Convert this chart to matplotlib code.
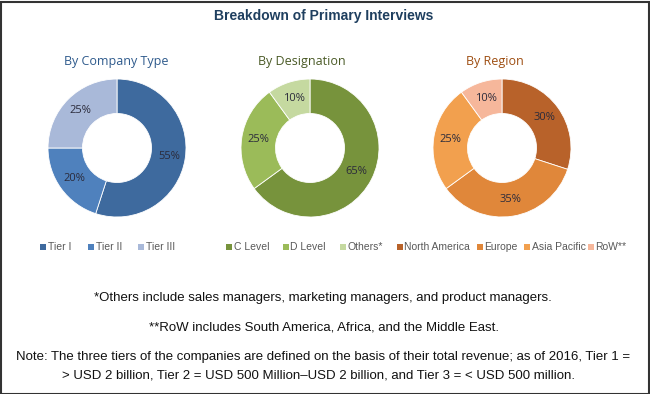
import matplotlib
matplotlib.use("Agg")
import matplotlib.pyplot as plt
from matplotlib.patches import Rectangle

plt.rcParams['font.family'] = ['Liberation Sans', 'DejaVu Sans']

company_labels = ["Tier I", "Tier II", "Tier III"]
company_values = [55, 20, 25]
company_colors = ["#3E6A9E", "#4F81BD", "#A9B9D9"]

designation_labels = ["C Level", "D Level", "Others*"]
designation_values = [65, 25, 10]
designation_colors = ["#77933C", "#9BBB59", "#C5D9A0"]

region_labels = ["North America", "Europe", "Asia Pacific", "RoW**"]
region_values = [30, 35, 25, 10]
region_colors = ["#B8622A", "#E0873A", "#F2A04E", "#F6B79B"]

W, H = 650, 394
fig = plt.figure(figsize=(W / 100, H / 100), dpi=100)
fig.patch.set_facecolor("white")
fig.add_artist(Rectangle((0.5 / W, 0.5 / H), 1 - 2 / W, 1 - 2 / H, transform=fig.transFigure,
                         fill=False, edgecolor="#333333", linewidth=1.5))

def px(x, y):
    return x / W, 1 - y / H

fig.text(*px(324, 16), "Breakdown of Primary Interviews", ha="center", va="center",
         fontsize=10, fontweight="bold", color="#1F3F5F", family=["Liberation Sans", "DejaVu Sans"])

groups = [
    ("By Company Type", "#2E5A8C", 116, 117, company_values, company_colors),
    ("By Designation", "#4A5A26", 302, 310, designation_values, designation_colors),
    ("By Region", "#9E4E12", 495, 502, region_values, region_colors),
]

R = 69
cy = 148
for title, tcolor, tx, cx, vals, cols in groups:
    fig.text(*px(tx, 62), title, ha="center", va="center", fontsize=9,
             color=tcolor, family=["Open Sans", "DejaVu Sans"])
    ax = fig.add_axes([(cx - R) / W, 1 - (cy + R) / H, 2 * R / W, 2 * R / H])
    wedges, texts = ax.pie(vals, colors=cols, startangle=90, counterclock=False,
                           radius=1, wedgeprops=dict(width=0.5, edgecolor="white", linewidth=0.6),
                           labels=[f"{v}%" for v in vals], labeldistance=0.76,
                           textprops=dict(fontsize=8, color="#2B2B3B",
                                          family=["Open Sans", "DejaVu Sans"]))
    for t in texts:
        t.set_ha("center"); t.set_va("center")
    ax.set_xlim(-1, 1); ax.set_ylim(-1, 1)
    ax.set_aspect("equal")
    ax.axis("off")

# legend entries: square x position (px)
legend_labels = company_labels + designation_labels + region_labels
legend_colors = company_colors + designation_colors + region_colors
legend_x = [40, 88, 138, 226, 283, 340, 397, 477, 524, 588]
ly = 247
sq = 6
for lab, col, x in zip(legend_labels, legend_colors, legend_x):
    fig.add_artist(Rectangle(((x) / W, 1 - (ly + sq / 2) / H), sq / W, sq / H,
                             transform=fig.transFigure, facecolor=col, edgecolor="none"))
    fig.text(*px(x + sq + 1.5, ly), lab, ha="left", va="center", fontsize=7.5,
             color="#595959", family=["Liberation Sans", "DejaVu Sans"])

fc = "#111111"
fs = 9.5
fig.text(*px(323, 298), "*Others include sales managers, marketing managers, and product managers.",
         ha="center", va="center", fontsize=fs, color=fc)
fig.text(*px(324, 328), "**RoW includes South America, Africa, and the Middle East.",
         ha="center", va="center", fontsize=fs, color=fc)
fig.text(*px(323, 357), "Note: The three tiers of the companies are defined on the basis of their total revenue; as of 2016, Tier 1 =",
         ha="center", va="center", fontsize=fs, color=fc)
fig.text(*px(318, 376), "> USD 2 billion, Tier 2 = USD 500 Million\u2013USD 2 billion, and Tier 3 = < USD 500 million.",
         ha="center", va="center", fontsize=fs, color=fc)

fig.savefig("out.png", dpi=100, facecolor="white")
